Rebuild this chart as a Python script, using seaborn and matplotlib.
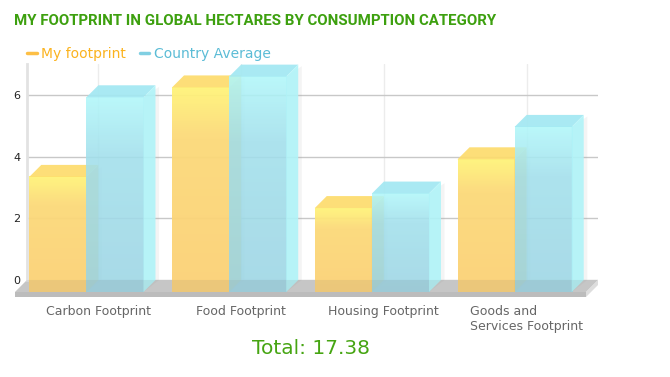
import numpy as np
import pandas as pd
import matplotlib
matplotlib.use("Agg")
import matplotlib.pyplot as plt
import matplotlib.colors as mcolors
from matplotlib.patches import Polygon, Rectangle
from matplotlib.lines import Line2D
import seaborn as sns

# data
categories = ["Carbon Footprint", "Food Footprint", "Housing Footprint",
              "Goods and\nServices Footprint"]
series = ["My footprint", "Country Average"]
my_footprint = [3.73, 6.63, 2.72, 4.30]
country_average = [6.31, 6.98, 3.19, 5.35]
yticks = [0, 2, 4, 6]

df = pd.DataFrame({
    "category": categories * 2,
    "series": [series[0]] * 4 + [series[1]] * 4,
    "value": my_footprint + country_average,
})

sns.set_style("white")
plt.rcParams["font.family"] = ["DejaVu Sans"]

fig = plt.figure(figsize=(6.7, 3.77), dpi=100)
ax = fig.add_axes([27 / 670, 97 / 377, 571 / 670, 216 / 377])

sns.barplot(data=df, x="category", y="value", hue="series", hue_order=series,
            palette=["#fbd57a", "#a0dae8"], width=0.8, saturation=1,
            errorbar=None, legend=False, linewidth=0, ax=ax)
ax.set_xlim(-0.5, 3.5)
ax.set_ylim(0, 7)
ax.set_autoscale_on(False)

# 3d depth of 12 px, expressed in data units
dx = 12 / (ax.bbox.width / 4.0)
dy = 12 / (ax.bbox.height / 7.0)
slab = 5 / (ax.bbox.height / 7.0)


def gradient(stops, alpha, n=256):
    pos = [s[0] for s in stops]
    rgb = np.array([mcolors.to_rgb(s[1]) for s in stops])
    t = np.linspace(0, 1, n)
    img = np.ones((n, 1, 4))
    for c in range(3):
        img[:, 0, c] = np.interp(t, pos, rgb[:, c])
    img[:, 0, 3] = alpha
    return img


styles = [
    dict(grad=gradient([(0, "#fff47a"), (0.25, "#fcd979"), (1, "#fbd176")], 0.95),
         top="#fddc6c", side="#f4c866", z=3),
    dict(grad=gradient([(0, "#b1f7fa"), (0.3, "#a2e0ec"), (1, "#9cd5e4")], 0.88),
         top="#a2e8f2", side="#b0f3f8", z=4),
]

# floor
floor_top = Polygon([(-0.5 - dx, -dy), (3.5 - dx, -dy), (3.5, 0), (-0.5, 0)],
                    closed=True, fc="#cfcfcf", ec="none", zorder=2, clip_on=False)
floor_front = Rectangle((-0.5 - dx, -dy - slab), 4, slab, fc="#bcbcbc",
                        ec="none", zorder=2, clip_on=False)
floor_side = Polygon([(3.5 - dx, -dy), (3.5, 0), (3.5, -slab), (3.5 - dx, -dy - slab)],
                     closed=True, fc="#dddddd", ec="none", zorder=2, clip_on=False)
for p in (floor_top, floor_front, floor_side):
    ax.add_patch(p)
# the floor shows faintly through the foot of the bars
ax.add_patch(Polygon([(-0.5 - dx, -dy), (3.5 - dx, -dy), (3.5, 0), (-0.5, 0)],
                     closed=True, fc="#7a7a7a", alpha=0.1, ec="none", zorder=5,
                     clip_on=False))

for cont, st in zip(ax.containers, styles):
    for bar in cont:
        x0, w, h = bar.get_x(), bar.get_width(), bar.get_height()
        bar.set_visible(False)
        # soft shadow on the right
        ax.add_patch(Polygon([(x0 + w - dx, -dy), (x0 + w + 0.025, 0),
                              (x0 + w + 0.025, h - 0.05), (x0 + w - dx, h - dy)],
                             closed=True, fc="#999999", alpha=0.1, ec="none",
                             zorder=st["z"] - 0.5, clip_on=False))
        im = ax.imshow(st["grad"], extent=[x0 - dx, x0 - dx + w, -dy, h - dy],
                       aspect="auto", interpolation="bilinear", zorder=st["z"])
        im.set_clip_on(False)
        ax.add_patch(Polygon([(x0 - dx, h - dy), (x0 - dx + w, h - dy),
                              (x0 + w, h), (x0, h)], closed=True, fc=st["top"],
                             ec="none", alpha=0.92, zorder=st["z"] + 0.1, clip_on=False))
        ax.add_patch(Polygon([(x0 - dx + w, -dy), (x0 + w, 0), (x0 + w, h),
                              (x0 - dx + w, h - dy)], closed=True, fc=st["side"],
                             ec="none", alpha=0.9, zorder=st["z"] + 0.1, clip_on=False))

ax.set_xlim(-0.5, 3.5)
ax.set_ylim(0, 7)

# axes styling
ax.set_axisbelow(True)
ax.yaxis.grid(True, color="#c8c8c8", lw=1)
ax.xaxis.grid(True, color="#ececec", lw=1)
ax.set_yticks(yticks)
ax.set_xlabel("")
ax.set_ylabel("")
for s in ("top", "right"):
    ax.spines[s].set_visible(False)
ax.spines["left"].set_color("#e2e2e2")
ax.spines["left"].set_linewidth(2)
ax.spines["bottom"].set_position(("outward", 12.2))
ax.spines["bottom"].set_color("none")
ax.tick_params(axis="y", length=0, pad=4.5, labelsize=8, labelcolor="#222222")
ax.tick_params(axis="x", length=3, width=0.8, color="#999999", pad=2.5,
               labelsize=9, labelcolor="#666666")
for lab in ax.get_xticklabels():
    lab.set_multialignment("left")

# title, legend, total
fig.text(14 / 670, 1 - 21 / 377, "MY FOOTPRINT IN GLOBAL HECTARES BY CONSUMPTION CATEGORY",
         va="center", ha="left", fontsize=10.8, fontweight="bold", color="#3da00f",
         family=["Roboto", "DejaVu Sans"])

handles = [Line2D([], [], color="#fdbf45", lw=2.5), Line2D([], [], color="#80cfe2", lw=2.5)]
leg = fig.legend(handles, series, loc="center left", bbox_to_anchor=(27 / 670, 1 - 54 / 377),
                 ncol=2, frameon=False, fontsize=10, handlelength=0.7, handletextpad=0.3,
                 columnspacing=1.0, borderpad=0, borderaxespad=0)
for txt, col in zip(leg.get_texts(), ["#fbb31f", "#5bbcd6"]):
    txt.set_color(col)

fig.text(311 / 670, 1 - 348 / 377, f"Total: {sum(my_footprint):.2f}", ha="center",
         va="center", fontsize=14.5, color="#46a512")

fig.savefig("out.png", dpi=100)
